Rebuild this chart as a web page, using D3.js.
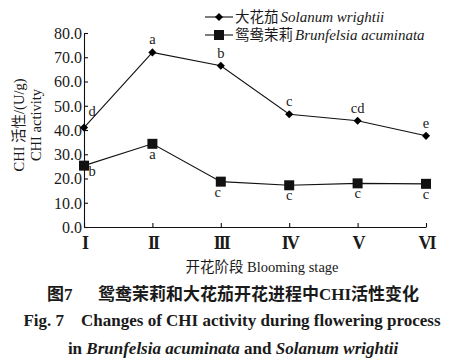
<!DOCTYPE html>
<html>
<head>
<meta charset="utf-8">
<script src="https://cdn.jsdelivr.net/npm/d3@7"></script>
<style>
  body { margin: 0; background: #fff; }
  text { font-family: "Liberation Serif", "Times New Roman", "Noto Sans CJK SC", serif; fill: #1a1a1a; }
</style>
</head>
<body>
<div id="chart"></div>
<script>
// Blooming stages
const stages = ["I", "II", "III", "IV", "V", "VI"];
// CHI activity (U/g)
const solanumValues = [41.0, 72.0, 66.5, 46.5, 43.8, 37.6];
const brunfelsiaValues = [25.3, 34.3, 18.7, 17.2, 18.0, 17.8];
// significance letters
const solanumLetters = ["d", "a", "b", "c", "cd", "e"];
const brunfelsiaLetters = ["b", "a", "c", "c", "c", "c"];
const yTicks = [0, 10, 20, 30, 40, 50, 60, 70, 80];

const W = 465, H = 363;
const svg = d3.select("#chart").append("svg")
    .attr("width", W).attr("height", H);

const x = d3.scalePoint().domain(stages).range([84, 426]);
const y = d3.scaleLinear().domain([0, 80]).range([227, 33]);

// Axes (ticks pointing inward)
const yAxis = d3.axisLeft(y).tickValues(yTicks).tickSize(-4).tickPadding(4)
    .tickFormat(d3.format(".1f")).tickSizeOuter(0);
const gy = svg.append("g").attr("transform", "translate(84,0)").call(yAxis);
gy.selectAll("text").style("font-size", "16px").attr("dy", "0.34em").attr("x", -2);

const xAxis = d3.axisBottom(x).tickSize(-4).tickPadding(6).tickSizeOuter(0);
const gx = svg.append("g").attr("transform", "translate(0,227)").call(xAxis);
gx.selectAll("text").style("font-size", "18px").attr("dy", "0.9em")
    .style("letter-spacing", "-2px").style("font-weight", "bold");
svg.selectAll(".domain, .tick line").attr("stroke", "#111").attr("stroke-width", 1.1);
svg.selectAll(".tick text").attr("fill", "#1a1a1a");

// Lines
const line = d3.line().x((d, i) => x(stages[i])).y(d => y(d));
svg.append("path").datum(solanumValues).attr("d", line)
    .attr("fill", "none").attr("stroke", "#111").attr("stroke-width", 1.1);
svg.append("path").datum(brunfelsiaValues).attr("d", line)
    .attr("fill", "none").attr("stroke", "#111").attr("stroke-width", 1.1);

const diamond = d3.symbol().type(d3.symbolDiamond2).size(42);
svg.selectAll(".dia").data(solanumValues).join("path")
    .attr("d", diamond)
    .attr("transform", (d, i) => `translate(${x(stages[i])},${y(d)})`)
    .attr("fill", "#000");
svg.selectAll(".sq").data(brunfelsiaValues).join("rect")
    .attr("x", (d, i) => x(stages[i]) - 5).attr("y", d => y(d) - 5)
    .attr("width", 10).attr("height", 10).attr("fill", "#111");

// Letters
svg.selectAll(".sl").data(solanumValues).join("text")
    .attr("x", (d, i) => x(stages[i]) + (i === 0 ? 8 : 0))
    .attr("y", (d, i) => y(d) - (i === 0 ? 12 : 8))
    .attr("text-anchor", "middle").style("font-size", "14.5px")
    .text((d, i) => solanumLetters[i]);
svg.selectAll(".bl").data(brunfelsiaValues).join("text")
    .attr("x", (d, i) => x(stages[i]) + (i === 0 ? 8 : i === 2 ? -3 : 0))
    .attr("y", (d, i) => y(d) + (i === 0 ? 10 : 15))
    .attr("text-anchor", "middle").style("font-size", "14.5px")
    .text((d, i) => brunfelsiaLetters[i]);

// Legend
const legend = [
  { zh: "大花茄", la: "Solanum wrightii", sym: "dia" },
  { zh: "鸳鸯茉莉", la: "Brunfelsia acuminata", sym: "sq" }
];
legend.forEach((l, i) => {
  const ly = 17 + i * 18;
  svg.append("line").attr("x1", 205).attr("x2", 233).attr("y1", ly).attr("y2", ly)
      .attr("stroke", "#111").attr("stroke-width", 1.1);
  if (l.sym === "dia") {
    svg.append("path").attr("d", diamond).attr("transform", `translate(219,${ly})`).attr("fill", "#000");
  } else {
    svg.append("rect").attr("x", 214).attr("y", ly - 5).attr("width", 10).attr("height", 10).attr("fill", "#111");
  }
  const t = svg.append("text").attr("x", 235).attr("y", ly + 5).style("font-size", "15px");
  t.append("tspan").text(l.zh).style("font-family", "'Noto Sans CJK SC', sans-serif").style("font-size", "14.5px");
  t.append("tspan").text(l.la).style("font-style", "italic").attr("dx", 2);
});

// Y title
svg.append("text").attr("transform", "translate(24,125) rotate(-90)")
    .attr("text-anchor", "middle").style("font-size", "14.5px")
    .text("CHI 活性/(U/g)");
svg.append("text").attr("transform", "translate(41,125) rotate(-90)")
    .attr("text-anchor", "middle").style("font-size", "14.5px")
    .text("CHI activity");

// X title
svg.append("text").attr("x", 262).attr("y", 272).attr("text-anchor", "middle")
    .style("font-size", "14.5px").text("开花阶段 Blooming stage");

// Captions
svg.append("text").attr("x", 233).attr("y", 300).attr("text-anchor", "middle")
    .style("font-size", "17px").style("font-weight", "bold")
    .text("图7\u2003\u2002鸳鸯茉莉和大花茄开花进程中CHI活性变化");
svg.append("text").attr("x", 232).attr("y", 326).attr("text-anchor", "middle")
    .style("font-size", "17px").style("font-weight", "bold")
    .text("Fig. 7\u2003Changes of CHI activity during flowering process");
const c3 = svg.append("text").attr("x", 233).attr("y", 354).attr("text-anchor", "middle")
    .style("font-size", "17px").style("font-weight", "bold");
c3.append("tspan").text("in ");
c3.append("tspan").text("Brunfelsia acuminata").style("font-style", "italic");
c3.append("tspan").text(" and ");
c3.append("tspan").text("Solanum wrightii").style("font-style", "italic");
</script>
</body>
</html>
